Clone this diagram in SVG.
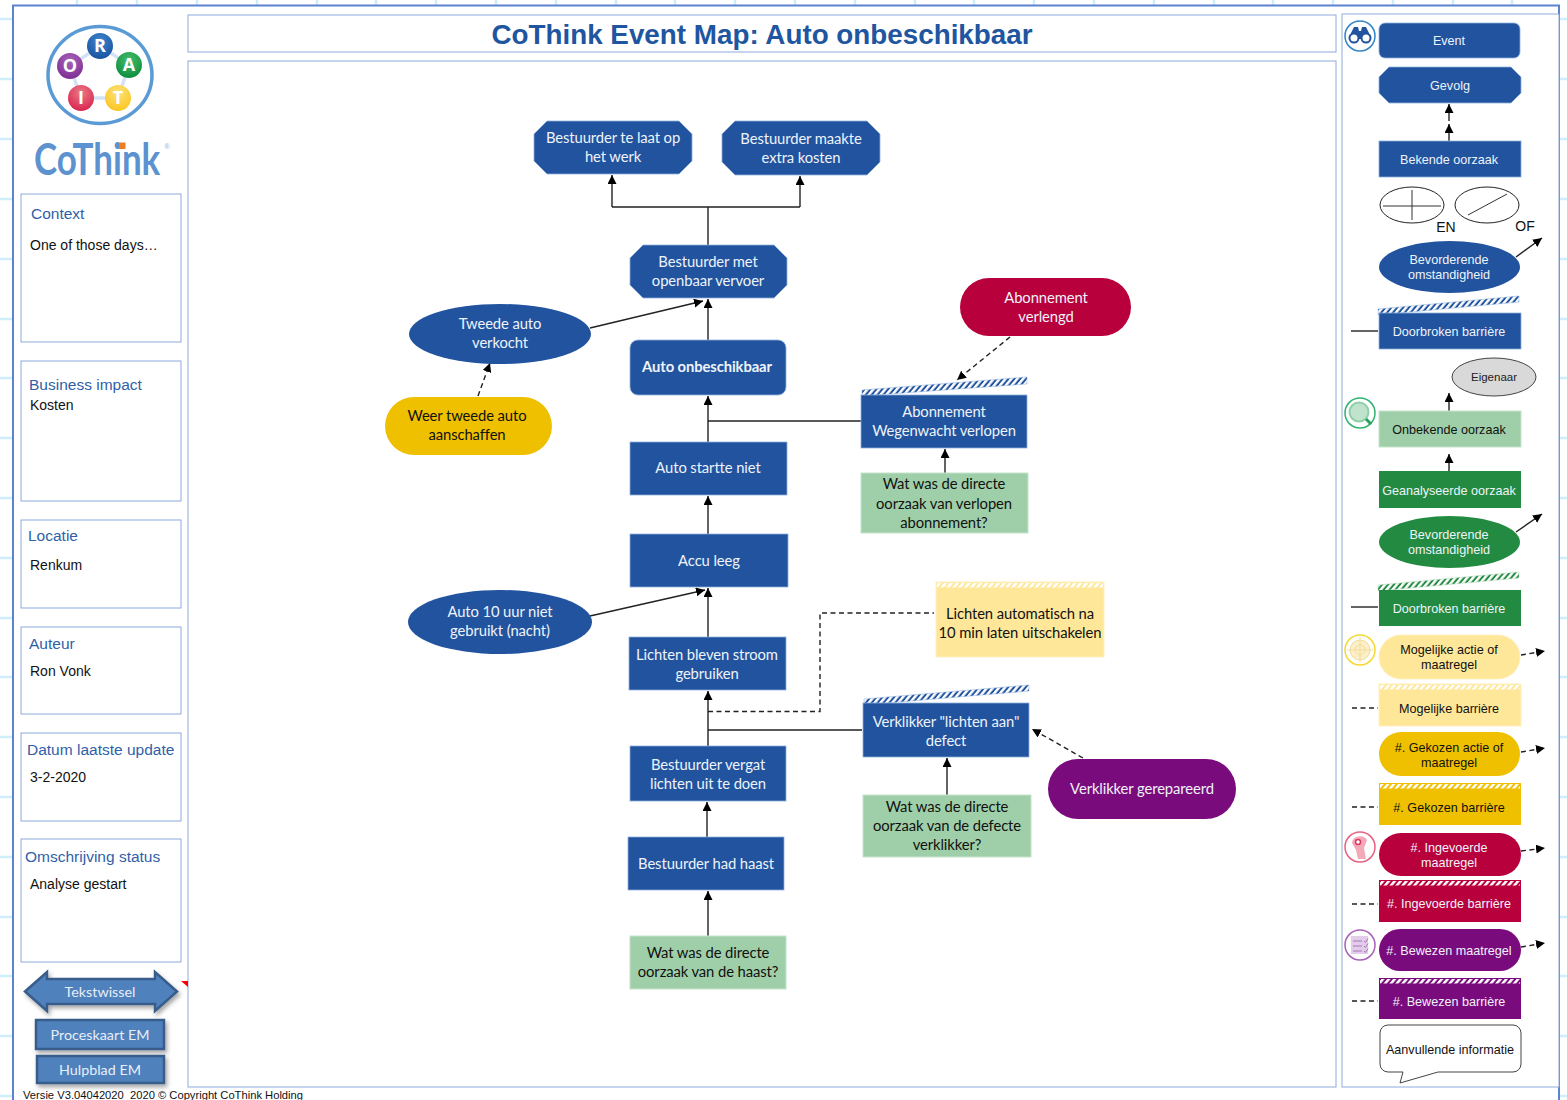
<svg xmlns="http://www.w3.org/2000/svg" width="1567" height="1100" viewBox="0 0 1567 1100">
<style>
text{font-family:"Liberation Sans",Arial,sans-serif}
.m{font-family:Lato,"Liberation Sans",sans-serif;font-size:14.8px;text-anchor:middle;letter-spacing:-.1px}
.r{font-size:12.6px;text-anchor:middle}
.w{fill:#eef3fa}.k{fill:#111}
.b{fill:#21539f;stroke:#8fb0dc;stroke-width:.8}
.lg{fill:#9fcfa8;stroke:#c5e3cb;stroke-width:1}
.y{fill:#ffe799;stroke:#fff0c0;stroke-width:1}
.g{fill:#eec000}
.rd{fill:#b8003c}
.p{fill:#7a0b7c}
.dg{fill:#238b41}
.pan{fill:#fff;stroke:#8ea9db;stroke-width:1}
.ph{font-size:15.5px;fill:#2f5fa8}
.pt{font-size:14px;fill:#111}
.c{fill:none;stroke:#222;stroke-width:1.4}
.d{stroke-dasharray:5 3.5}
.a{marker-end:url(#ah)}
.btn{fill:#4f81bd;stroke:#385d8a;stroke-width:2.5;filter:url(#sh)}
.bt{font-family:Lato,sans-serif;font-size:14.3px;fill:#e8eef7;text-anchor:middle}
.gl{stroke:#cdeefa;stroke-width:2.5}
.lt{font-size:18px;font-weight:bold;fill:#fff;text-anchor:middle;font-family:"Open Sans",sans-serif}
</style>
<defs>
<marker id="ah" markerUnits="userSpaceOnUse" markerWidth="10" markerHeight="10" refX="9" refY="4.5" orient="auto"><path d="M0 0L9 4.5L0 9z" fill="#000"/></marker>
<pattern id="hb" width="4.5" height="6" patternUnits="userSpaceOnUse" patternTransform="rotate(40)"><rect width="4.5" height="6" fill="#21539f"/><rect width="2.5" height="6" fill="#fff"/></pattern>
<pattern id="hg" width="4.5" height="6" patternUnits="userSpaceOnUse" patternTransform="rotate(40)"><rect width="4.5" height="6" fill="#238b41"/><rect width="2.5" height="6" fill="#fff"/></pattern>
<pattern id="hw" width="4.5" height="6" patternUnits="userSpaceOnUse" patternTransform="rotate(40)"><rect width="2.5" height="6" fill="#fff"/></pattern>
<filter id="sh" x="-10%" y="-10%" width="125%" height="140%"><feDropShadow dx="2" dy="3" stdDeviation="2" flood-color="#000" flood-opacity=".35"/></filter>
<radialGradient id="bB" cx=".5" cy=".3" r=".75"><stop offset="0" stop-color="#3f86cf"/><stop offset="1" stop-color="#174f9c"/></radialGradient>
<radialGradient id="bA" cx=".5" cy=".3" r=".75"><stop offset="0" stop-color="#45bd6a"/><stop offset="1" stop-color="#0a8a3d"/></radialGradient>
<radialGradient id="bT" cx=".5" cy=".3" r=".75"><stop offset="0" stop-color="#fbe27a"/><stop offset="1" stop-color="#fcc419"/></radialGradient>
<radialGradient id="bI" cx=".5" cy=".3" r=".75"><stop offset="0" stop-color="#ea7b86"/><stop offset="1" stop-color="#d81f4c"/></radialGradient>
<radialGradient id="bO" cx=".5" cy=".3" r=".75"><stop offset="0" stop-color="#a865b8"/><stop offset="1" stop-color="#7c2a92"/></radialGradient>
</defs>
<rect width="1567" height="1100" fill="#fff"/>
<g id="grid"><path class="gl" fill="none" d="M77 0V1100M137 0V1100M197 0V1100M257 0V1100M317 0V1100M376 0V1100M436 0V1100M496 0V1100M556 0V1100M616 0V1100M675 0V1100M735 0V1100M795 0V1100M855 0V1100M915 0V1100M974 0V1100M1034 0V1100M1094 0V1100M1154 0V1100M1214 0V1100M1273 0V1100M1333 0V1100M1393 0V1100M1453 0V1100M1512 0V1100M0 19H1567M0 79H1567M0 139H1567M0 199H1567M0 259H1567M0 319H1567M0 378H1567M0 438H1567M0 498H1567M0 558H1567M0 618H1567M0 677H1567M0 737H1567M0 797H1567M0 857H1567M0 917H1567M0 976H1567M0 1036H1567M0 1096H1567"/></g>
<rect id="frame" x="13" y="5.5" width="1546" height="1110" fill="#fff" stroke="#5b83cf" stroke-width="2"/>

<g id="logo">
<ellipse cx="100" cy="75" rx="52" ry="48.5" fill="#fff" stroke="#5b9bd5" stroke-width="3.5"/>
<polygon points="100,46 129,65 118,98 81,98 70,66" fill="none" stroke="#d3e2f4" stroke-width="3.5"/>
<circle cx="100" cy="46" r="13" fill="url(#bB)"/><text class="lt" x="100" y="52">R</text>
<circle cx="129" cy="65" r="13" fill="url(#bA)"/><text class="lt" x="129" y="71">A</text>
<circle cx="118" cy="98" r="13" fill="url(#bT)"/><text class="lt" x="118" y="104">T</text>
<circle cx="81" cy="98" r="13" fill="url(#bI)"/><text class="lt" x="81" y="104">I</text>
<circle cx="70" cy="66" r="13" fill="url(#bO)"/><text class="lt" x="70" y="72">O</text>
<text transform="translate(34 175) scale(.795 1)" style="font-family:Lato,sans-serif;font-weight:bold;font-size:44px;fill:#5b92cf">CoThink</text>
<rect x="119" y="142.5" width="6.5" height="6.5" fill="#ef7d22"/>
<text x="167" y="149" style="font-size:7.5px;fill:#8fb4dc" text-anchor="middle">®</text>
</g>

<g id="title"><rect class="pan" x="188" y="15" width="1148" height="37"/><text x="762" y="44" text-anchor="middle" style="font-size:27.8px;font-weight:bold;fill:#2055a0">CoThink Event Map: Auto onbeschikbaar</text></g>
<rect id="main-panel" class="pan" x="188" y="61" width="1148" height="1026"/>
<rect id="legend-panel" class="pan" x="1342" y="14" width="217" height="1073"/>

<g id="p-context"><rect class="pan" x="21" y="194" width="160" height="148"/><text class="ph" x="31" y="219">Context</text><text class="pt" x="30" y="250">One of those days…</text></g>
<g id="p-impact"><rect class="pan" x="21" y="361" width="160" height="140"/><text class="ph" x="29" y="390">Business impact</text><text class="pt" x="30" y="410">Kosten</text></g>
<g id="p-locatie"><rect class="pan" x="21" y="520" width="160" height="88"/><text class="ph" x="28" y="541">Locatie</text><text class="pt" x="30" y="570">Renkum</text></g>
<g id="p-auteur"><rect class="pan" x="21" y="627" width="160" height="87"/><text class="ph" x="29" y="649">Auteur</text><text class="pt" x="30" y="676">Ron Vonk</text></g>
<g id="p-datum"><rect class="pan" x="21" y="733" width="160" height="88"/><text class="ph" x="27" y="755">Datum laatste update</text><text class="pt" x="30" y="782">3-2-2020</text></g>
<g id="p-status"><rect class="pan" x="21" y="839" width="160" height="123"/><text class="ph" x="25" y="862">Omschrijving status</text><text class="pt" x="30" y="889">Analyse gestart</text></g>

<g id="btn-tekst"><polygon class="btn" points="25,991.5 47,972 47,979 155,979 155,972 177,991.5 155,1011 155,1004 47,1004 47,1011"/><text class="bt" x="100" y="996.5">Tekstwissel</text></g>
<polygon id="red-mark" points="181,981 188,981 188,987" fill="#f00"/>
<g id="btn-proces"><rect class="btn" x="36" y="1020" width="128" height="29"/><text class="bt" x="100" y="1040">Proceskaart EM</text></g>
<g id="btn-hulp"><rect class="btn" x="37" y="1056" width="127" height="27"/><text class="bt" x="100" y="1075">Hulpblad EM</text></g>
<text id="footer" x="23" y="1099" style="font-size:11.2px;fill:#111" xml:space="preserve">Versie V3.04042020  2020 © Copyright CoThink Holding</text>

<g id="connectors">
<path class="c a" d="M612 207V175"/><path class="c a" d="M800 207V176"/><path class="c" d="M612 207H800M708 207V245"/>
<path class="c a" d="M708 340V299"/><path class="c a" d="M590 328L703 301"/><path class="c d a" d="M478 396L490 363"/>
<path class="c a" d="M708 442V396"/><path class="c" d="M861 421H708"/><path class="c d a" d="M1010 337L957 380"/><path class="c a" d="M945 473V449"/>
<path class="c a" d="M708 534V496"/><path class="c a" d="M708 637V588"/><path class="c a" d="M590 616L705 590"/>
<path class="c a" d="M708 746V691"/><path class="c d" d="M708 711.5H820V613H934"/><path class="c" d="M708 730H862"/>
<path class="c a" d="M707 837V802"/><path class="c a" d="M708 936V891"/><path class="c a" d="M947 795V758"/><path class="c d a" d="M1083 758L1032 729"/>
<path class="c a" d="M1449 121V104"/><path class="c a" d="M1449 141V124"/>
<path class="c a" d="M1516 257L1542 238"/><path class="c" d="M1351 331H1378"/>
<path class="c a" d="M1449 411V393"/><path class="c a" d="M1449 471V454"/>
<path class="c a" d="M1516 532L1542 514"/><path class="c" d="M1351 607H1378"/>
<path class="c d a" d="M1521 655L1545 651"/><path class="c d" d="M1352 708H1378"/>
<path class="c d a" d="M1521 752L1545 748"/><path class="c d" d="M1352 807H1378"/>
<path class="c d a" d="M1521 851L1545 848"/><path class="c d" d="M1352 904H1378"/>
<path class="c d a" d="M1521 947L1545 943"/><path class="c d" d="M1352 1001H1378"/>
</g>

<g id="n1"><polygon class="b" points="547,121 679,121 692,134 692,161 679,174 547,174 534,161 534,134"/><text class="m w" x="613" y="143">Bestuurder te laat op</text><text class="m w" x="613" y="162">het werk</text></g>
<g id="n2"><polygon class="b" points="735,121 867,121 880,134 880,162 867,175 735,175 722,162 722,134"/><text class="m w" x="801" y="144">Bestuurder maakte</text><text class="m w" x="801" y="163">extra kosten</text></g>
<g id="n3"><polygon class="b" points="643,245 774,245 787,258 787,285 774,298 643,298 630,285 630,258"/><text class="m w" x="708" y="267">Bestuurder met</text><text class="m w" x="708" y="286">openbaar vervoer</text></g>
<g id="n4"><rect class="b" x="630" y="340" width="156" height="55" rx="8"/><text class="m w" x="707" y="372" style="font-weight:bold">Auto onbeschikbaar</text></g>
<g id="n5"><rect class="b" x="630" y="442" width="157" height="53"/><text class="m w" x="708" y="473">Auto startte niet</text></g>
<g id="n6"><rect class="b" x="630" y="534" width="158" height="53"/><text class="m w" x="709" y="566">Accu leeg</text></g>
<g id="n7"><rect class="b" x="629" y="637" width="157" height="53"/><text class="m w" x="707" y="660">Lichten bleven stroom</text><text class="m w" x="707" y="679">gebruiken</text></g>
<g id="n8"><rect class="b" x="630" y="746" width="156" height="55"/><text class="m w" x="708" y="770">Bestuurder vergat</text><text class="m w" x="708" y="789">lichten uit te doen</text></g>
<g id="n9"><rect class="b" x="628" y="837" width="156" height="53"/><text class="m w" x="706" y="869">Bestuurder had haast</text></g>
<g id="n10"><rect class="lg" x="630" y="936" width="156" height="53"/><text class="m k" x="708" y="958">Wat was de directe</text><text class="m k" x="708" y="977">oorzaak van de haast?</text></g>
<g id="n11"><ellipse cx="500" cy="334" rx="91" ry="30" fill="#21539f"/><text class="m w" x="500" y="329">Tweede auto</text><text class="m w" x="500" y="348">verkocht</text></g>
<g id="n12"><rect class="g" x="385" y="397" width="167" height="58" rx="29"/><text class="m k" x="467" y="421">Weer tweede auto</text><text class="m k" x="467" y="440">aanschaffen</text></g>
<g id="n13"><rect class="rd" x="960" y="278" width="171" height="58" rx="29"/><text class="m w" x="1046" y="303">Abonnement</text><text class="m w" x="1046" y="322">verlengd</text></g>
<g id="n14"><polygon points="862,390 1027,377 1027,384 862,396" fill="url(#hb)" stroke="#8fb0dc" stroke-width=".5"/><rect class="b" x="861" y="395" width="166" height="53"/><text class="m w" x="944" y="417">Abonnement</text><text class="m w" x="944" y="436">Wegenwacht verlopen</text></g>
<g id="n15"><rect class="lg" x="861" y="473" width="167" height="60"/><text class="m k" x="944" y="489">Wat was de directe</text><text class="m k" x="944" y="509">oorzaak van verlopen</text><text class="m k" x="944" y="528">abonnement?</text></g>
<g id="n16"><ellipse cx="500" cy="622" rx="92" ry="32" fill="#21539f"/><text class="m w" x="500" y="617">Auto 10 uur niet</text><text class="m w" x="500" y="636">gebruikt (nacht)</text></g>
<g id="n17"><rect class="y" x="936" y="582" width="168" height="75"/><rect x="937" y="583" width="166" height="4.5" fill="url(#hw)"/><text class="m k" x="1020" y="619">Lichten automatisch na</text><text class="m k" x="1020" y="638">10 min laten uitschakelen</text></g>
<g id="n18"><polygon points="864,699 1029,685 1029,691 864,705" fill="url(#hb)" stroke="#8fb0dc" stroke-width=".5"/><rect class="b" x="863" y="703" width="166" height="54"/><text class="m w" x="946" y="727">Verklikker "lichten aan"</text><text class="m w" x="946" y="746">defect</text></g>
<g id="n19"><rect class="lg" x="863" y="795" width="168" height="62"/><text class="m k" x="947" y="812">Wat was de directe</text><text class="m k" x="947" y="831">oorzaak van de defecte</text><text class="m k" x="947" y="850">verklikker?</text></g>
<g id="n20"><rect class="p" x="1048" y="759" width="188" height="60" rx="30"/><text class="m w" x="1142" y="794">Verklikker gerepareerd</text></g>

<g id="l-event"><rect class="b" x="1379" y="23" width="141" height="35" rx="6"/><text class="r w" x="1449" y="45">Event</text></g>
<g id="l-gevolg"><polygon class="b" points="1389,67 1511,67 1521,77 1521,93 1511,103 1389,103 1379,93 1379,77"/><text class="r w" x="1450" y="90">Gevolg</text></g>
<g id="l-bekend"><rect class="b" x="1379" y="141" width="142" height="36"/><text class="r w" x="1449" y="164">Bekende oorzaak</text></g>
<g id="l-en"><ellipse cx="1412" cy="205" rx="32" ry="18" fill="#fff" stroke="#222"/><path d="M1383 206H1441M1412 190V220" stroke="#333" fill="none"/><text x="1446" y="232" text-anchor="middle" style="font-size:14px;fill:#111">EN</text></g>
<g id="l-of"><ellipse cx="1487" cy="205" rx="32" ry="18" fill="#fff" stroke="#222"/><path d="M1468 215L1507 194" stroke="#333" fill="none"/><text x="1525" y="231" text-anchor="middle" style="font-size:14px;fill:#111">OF</text></g>
<g id="l-bev1"><ellipse cx="1449.5" cy="267" rx="70.5" ry="26" fill="#21539f"/><text class="r w" x="1449" y="264">Bevorderende</text><text class="r w" x="1449" y="279">omstandigheid</text></g>
<g id="l-door1"><polygon points="1378,309 1519,296 1519,302 1378,315" fill="url(#hb)" stroke="#8fb0dc" stroke-width=".5"/><rect class="b" x="1379" y="313" width="142" height="36"/><text class="r w" x="1449" y="335.500">Doorbroken barrière</text></g>
<g id="l-eig"><ellipse cx="1494" cy="377" rx="42" ry="19" fill="#d9d9d9" stroke="#444"/><text x="1494" y="381" text-anchor="middle" style="font-size:11.5px;fill:#222">Eigenaar</text></g>
<g id="l-onb"><rect class="lg" x="1379" y="411" width="142" height="36"/><text class="r k" x="1449" y="434">Onbekende oorzaak</text></g>
<g id="l-gean"><rect class="dg" x="1379" y="471" width="142" height="37"/><text class="r w" x="1449" y="494.500">Geanalyseerde oorzaak</text></g>
<g id="l-bev2"><ellipse cx="1449.5" cy="542" rx="70.5" ry="26" fill="#238b41"/><text class="r w" x="1449" y="539">Bevorderende</text><text class="r w" x="1449" y="554">omstandigheid</text></g>
<g id="l-door2"><polygon points="1378,585 1519,572 1519,578 1378,591" fill="url(#hg)" stroke="#a8d5b5" stroke-width=".5"/><rect class="dg" x="1379" y="590" width="142" height="36"/><text class="r w" x="1449" y="612.500">Doorbroken barrière</text></g>
<g id="l-mog"><rect class="y" x="1379" y="635" width="141" height="44" rx="22"/><text class="r k" x="1449" y="654">Mogelijke actie of</text><text class="r k" x="1449" y="669">maatregel</text></g>
<g id="l-mogb"><rect class="y" x="1379" y="684" width="142" height="42"/><rect x="1380" y="685" width="140" height="4.5" fill="url(#hw)"/><text class="r k" x="1449" y="713">Mogelijke barrière</text></g>
<g id="l-gek"><rect class="g" x="1379" y="732" width="141" height="44" rx="22"/><text class="r k" x="1449" y="752">#. Gekozen actie of</text><text class="r k" x="1449" y="767">maatregel</text></g>
<g id="l-gekb"><rect class="g" x="1379" y="783" width="142" height="42"/><rect x="1380" y="784" width="140" height="4.5" fill="url(#hw)"/><text class="r k" x="1449" y="812">#. Gekozen barrière</text></g>
<g id="l-ing"><rect class="rd" x="1379" y="833" width="142" height="43" rx="21.5"/><text class="r w" x="1449" y="852">#. Ingevoerde</text><text class="r w" x="1449" y="867">maatregel</text></g>
<g id="l-ingb"><rect class="rd" x="1379" y="880" width="142" height="42"/><rect x="1380" y="881" width="140" height="4.5" fill="url(#hw)"/><text class="r w" x="1449" y="908">#. Ingevoerde barrière</text></g>
<g id="l-bew"><rect class="p" x="1379" y="929" width="142" height="42" rx="21"/><text class="r w" x="1449" y="955">#. Bewezen maatregel</text></g>
<g id="l-bewb"><rect class="p" x="1379" y="978" width="142" height="41"/><rect x="1380" y="979" width="140" height="4.5" fill="url(#hw)"/><text class="r w" x="1449" y="1006">#. Bewezen barrière</text></g>
<g id="l-info"><path d="M1388 1025H1513a8 8 0 0 1 8 8V1064a8 8 0 0 1-8 8H1438L1400 1083L1403 1072H1388a8 8 0 0 1-8-8V1033a8 8 0 0 1 8-8z" fill="#fff" stroke="#444"/><text class="r k" x="1450" y="1054">Aanvullende informatie</text></g>

<g id="icon-bino"><circle cx="1360" cy="36" r="15" fill="#fff" stroke="#2f85c8" stroke-width="1.5"/><path d="M1351 33L1354 27H1358L1359 31H1361L1362 27H1366L1369 33V39H1351z" fill="#21539f"/><circle cx="1354" cy="38" r="4.5" fill="#fff" stroke="#21539f" stroke-width="2"/><circle cx="1366" cy="38" r="4.5" fill="#fff" stroke="#21539f" stroke-width="2"/></g>
<g id="icon-lens"><circle cx="1360" cy="413" r="15" fill="#fff" stroke="#2fb36e" stroke-width="1.5"/><circle cx="1359" cy="412" r="9.5" fill="#bfe3cc" stroke="#8fd0a8" stroke-width="2"/><path d="M1366 419L1371 424" stroke="#2a9d60" stroke-width="3"/></g>
<g id="icon-target"><circle cx="1360" cy="650" r="15" fill="#fff" stroke="#f5d92e" stroke-width="1.5"/><circle cx="1360" cy="650" r="10" fill="#fdf0c8" stroke="#f2dc9a"/><circle cx="1360" cy="650" r="5" fill="none" stroke="#f2dc9a"/><path d="M1347 650H1373M1360 637V663" stroke="#f2dc9a"/></g>
<g id="icon-wrench"><circle cx="1360" cy="847" r="15" fill="#fff" stroke="#e8607f" stroke-width="1.5"/><path d="M1352 843a8 7 0 0 1 15-3L1364 848L1366 859H1358L1356 850z" fill="#f3a9b8"/><circle cx="1358" cy="842" r="2.5" fill="#fff" stroke="#d8395f" stroke-width="1.5"/></g>
<g id="icon-list"><circle cx="1360" cy="945" r="15" fill="#fff" stroke="#a860b8" stroke-width="1.5"/><rect x="1351" y="936" width="17" height="18" fill="#e3cbea"/><path d="M1353 941H1362M1353 946H1362M1353 951H1362M1364 941l1.5 1.5 2.5-4M1364 946l1.5 1.5 2.5-4M1364 951l1.5 1.5 2.5-4" stroke="#a878b8" fill="none"/></g>
</svg>
